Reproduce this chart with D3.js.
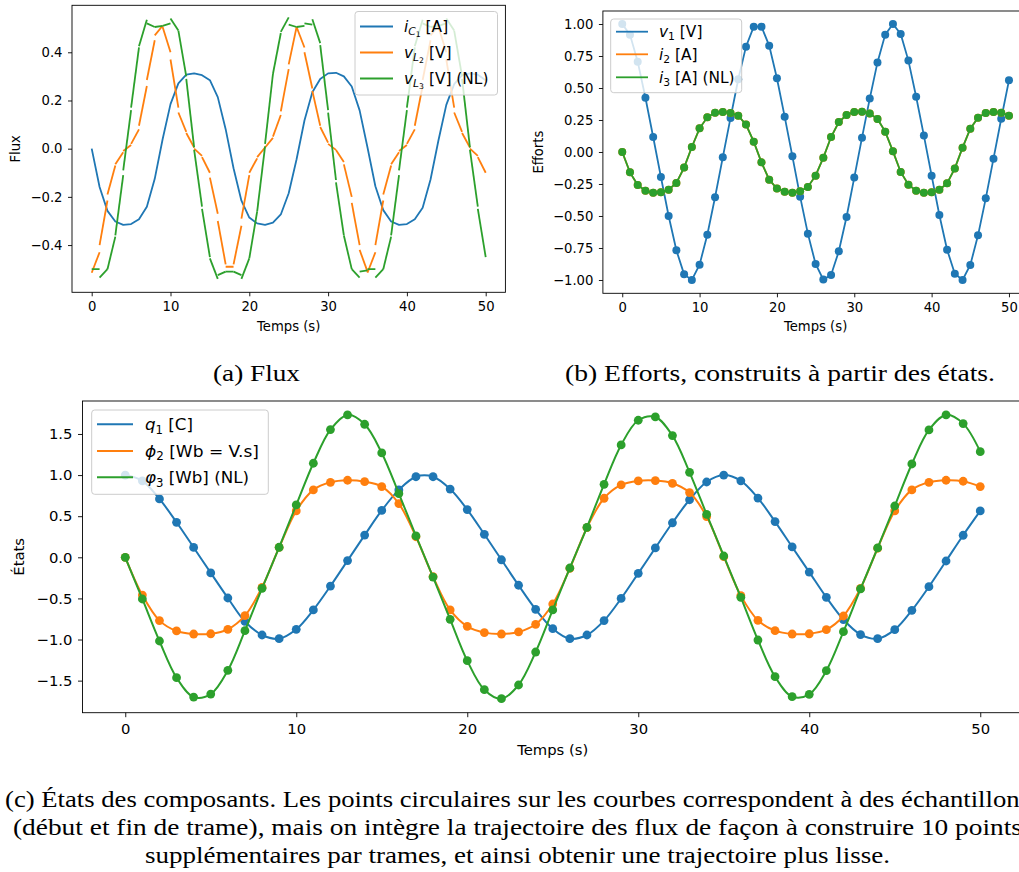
<!DOCTYPE html>
<html><head><meta charset="utf-8">
<script src="https://cdn.jsdelivr.net/npm/d3@7"></script>
<style>body{margin:0;background:#fff}svg{display:block}</style>
</head><body>
<svg id="fig" width="1019" height="872"></svg>
<script>
// ---------- DATA ----------
const temps = [0,1,2,3,4,5,6,7,8,9,10,11,12,13,14,15,16,17,18,19,20,21,22,23,24,25,26,27,28,29,30,31,32,33,34,35,36,37,38,39,40,41,42,43,44,45,46,47,48,49,50];

// (a) Flux
const iC1 = [0.0,-0.159,-0.258,-0.302,-0.316,-0.313,-0.293,-0.241,-0.125,0.039,0.185,0.271,0.307,0.3125,0.305,0.284,0.214,0.081,-0.081,-0.216,-0.286,-0.31,-0.316,-0.307,-0.273,-0.185,-0.044,0.117,0.234,0.289,0.3125,0.315,0.30,0.258,0.159,0.005,-0.156,-0.255,-0.302,-0.316,-0.313,-0.293,-0.245,-0.128,0.034,0.182,0.268,0.305,0.3125,0.307,0.284];
// v_L2 per frame (value at start of frame, value at end of frame)
const vL2Debut = [-0.515,-0.40,-0.19,-0.065,-0.01,0.02,0.095,0.285,0.47,0.505,0.37,0.15,0.065,0.0,-0.035,-0.12,-0.30,-0.49,-0.48,-0.29,-0.10,-0.035,0.005,0.05,0.155,0.35,0.505,0.40,0.24,0.09,0.02,-0.005,-0.065,-0.225,-0.42,-0.515,-0.40,-0.19,-0.065,-0.01,0.02,0.095,0.285,0.47,0.505,0.37,0.15,0.065,0.0,-0.035];
const vL2Fin   = [-0.43,-0.215,-0.07,-0.015,0.015,0.08,0.26,0.45,0.51,0.40,0.17,0.07,0.005,-0.03,-0.10,-0.27,-0.48,-0.49,-0.32,-0.11,-0.04,0.005,0.045,0.14,0.33,0.505,0.42,0.25,0.095,0.025,-0.005,-0.055,-0.20,-0.40,-0.51,-0.43,-0.215,-0.07,-0.015,0.015,0.08,0.26,0.45,0.51,0.40,0.17,0.07,0.005,-0.03,-0.10];
// v_L3 (NL) per frame
const vL3Debut = [-0.50,-0.535,-0.50,-0.36,-0.09,0.17,0.425,0.52,0.505,0.51,0.54,0.49,0.29,-0.005,-0.25,-0.455,-0.525,-0.51,-0.51,-0.54,-0.455,-0.26,0.02,0.31,0.485,0.515,0.505,0.52,0.537,0.43,0.15,-0.14,-0.36,-0.50,-0.51,-0.50,-0.535,-0.50,-0.36,-0.09,0.17,0.425,0.52,0.505,0.51,0.54,0.49,0.29,-0.005,-0.25];
const vL3Fin   = [-0.50,-0.50,-0.365,-0.11,0.16,0.42,0.535,0.505,0.51,0.52,0.49,0.30,0.005,-0.24,-0.45,-0.54,-0.51,-0.51,-0.525,-0.455,-0.26,0.01,0.31,0.48,0.545,0.505,0.51,0.515,0.438,0.16,-0.13,-0.36,-0.50,-0.535,-0.505,-0.50,-0.50,-0.365,-0.11,0.16,0.42,0.535,0.505,0.51,0.52,0.49,0.30,0.005,-0.24,-0.45];

// (b) Efforts
const v1 = [1.00,0.917,0.706,0.424,0.117,-0.195,-0.50,-0.768,-0.956,-1.0,-0.88,-0.646,-0.354,-0.042,0.266,0.568,0.823,0.979,0.979,0.831,0.576,0.276,-0.034,-0.349,-0.638,-0.875,-0.997,-0.961,-0.776,-0.508,-0.20,0.112,0.417,0.70,0.917,1.0,0.922,0.714,0.432,0.128,-0.185,-0.492,-0.763,-0.951,-1.0,-0.883,-0.651,-0.362,-0.052,0.26,0.56];
const i2 = [0.0,-0.159,-0.258,-0.302,-0.318,-0.315,-0.294,-0.242,-0.122,0.039,0.185,0.271,0.307,0.3125,0.305,0.284,0.214,0.081,-0.081,-0.216,-0.286,-0.31,-0.318,-0.307,-0.273,-0.185,-0.044,0.117,0.234,0.289,0.3125,0.315,0.30,0.258,0.159,0.005,-0.156,-0.255,-0.302,-0.318,-0.315,-0.294,-0.245,-0.128,0.034,0.182,0.268,0.305,0.3125,0.307,0.284];
const i3 = [0.0,-0.159,-0.258,-0.302,-0.318,-0.315,-0.294,-0.242,-0.122,0.039,0.185,0.271,0.307,0.3125,0.305,0.284,0.214,0.081,-0.081,-0.216,-0.286,-0.31,-0.318,-0.307,-0.273,-0.185,-0.044,0.117,0.234,0.289,0.3125,0.315,0.30,0.258,0.159,0.005,-0.156,-0.255,-0.302,-0.318,-0.315,-0.294,-0.245,-0.128,0.034,0.182,0.268,0.305,0.3125,0.307,0.284];

// (c) Etats
const q1 = [1.0,0.93,0.71,0.426,0.12,-0.19,-0.495,-0.78,-0.945,-0.99,-0.876,-0.64,-0.35,-0.04,0.27,0.57,0.82,0.98,0.98,0.83,0.58,0.28,-0.03,-0.34,-0.633,-0.868,-0.99,-0.945,-0.77,-0.5,-0.195,0.114,0.42,0.70,0.916,1.0,0.93,0.72,0.434,0.126,-0.18,-0.487,-0.758,-0.94,-0.99,-0.88,-0.645,-0.357,-0.045,0.268,0.564];
const phi2 = [0,-0.46,-0.77,-0.896,-0.933,-0.93,-0.876,-0.71,-0.365,0.12,0.564,0.82,0.912,0.937,0.92,0.86,0.653,0.25,-0.235,-0.64,-0.84,-0.916,-0.933,-0.908,-0.815,-0.568,-0.134,0.36,0.718,0.88,0.929,0.933,0.90,0.787,0.495,0.008,-0.466,-0.766,-0.892,-0.933,-0.93,-0.88,-0.714,-0.377,0.11,0.564,0.82,0.912,0.937,0.925,0.86];
const phi3 = [0,-0.507,-1.018,-1.464,-1.70,-1.663,-1.375,-0.892,-0.377,0.122,0.637,1.144,1.553,1.732,1.618,1.269,0.775,0.26,-0.24,-0.754,-1.257,-1.61,-1.72,-1.553,-1.152,-0.64,-0.13,0.365,0.888,1.367,1.667,1.707,1.48,1.034,0.523,0.016,-0.487,-1.006,-1.452,-1.695,-1.667,-1.379,-0.904,-0.385,0.114,0.624,1.135,1.549,1.732,1.626,1.285];

// ticks
const xTicks = [0,10,20,30,40,50];
const yTicksA = [-0.4,-0.2,0.0,0.2,0.4];
const yTicksB = [-1.0,-0.75,-0.5,-0.25,0.0,0.25,0.5,0.75,1.0];
const yTicksC = [-1.5,-1.0,-0.5,0.0,0.5,1.0,1.5];

const couleurs = ["#1f77b4","#ff7f0e","#2ca02c"];

// ---------- DRAW ----------
const svg = d3.select("#fig");
const FONT = "DejaVu Sans, sans-serif";

function panel(o){
  const g = svg.append("g");
  const x = d3.scaleLinear().domain(o.xd).range([o.x0,o.x1]);
  const y = d3.scaleLinear().domain(o.yd).range([o.y1,o.y0]);
  const id = "clip"+o.name;
  svg.append("clipPath").attr("id",id).append("rect")
     .attr("x",o.x0).attr("y",o.y0).attr("width",o.x1-o.x0).attr("height",o.y1-o.y0);
  const plot = g.append("g").attr("clip-path",`url(#${id})`);
  const ax = g.append("g").attr("transform",`translate(0,${o.y1})`)
    .call(d3.axisBottom(x).tickValues(xTicks).tickFormat(d3.format("d")).tickSize(o.tick).tickPadding(o.padX));
  const ay = g.append("g").attr("transform",`translate(${o.x0},0)`)
    .call(d3.axisLeft(y).tickValues(o.yt).tickFormat(o.fmt).tickSize(o.tick).tickPadding(o.padY));
  [ax,ay].forEach(a=>{
    a.select(".domain").remove();
    a.selectAll("line").attr("stroke","#000").attr("stroke-width",0.9);
    a.selectAll("text").attr("font-family",FONT).attr("font-size",o.fs).attr("fill","#000");
  });
  g.append("rect").attr("x",o.x0).attr("y",o.y0).attr("width",o.x1-o.x0).attr("height",o.y1-o.y0)
    .attr("fill","none").attr("stroke","#000").attr("stroke-width",0.9);
  g.append("text").attr("x",(o.x0+o.x1)/2).attr("y",o.xlabY).attr("text-anchor","middle")
    .attr("font-family",FONT).attr("font-size",o.fs).text("Temps (s)");
  g.append("text").attr("transform",`translate(${o.ylabX},${(o.y0+o.y1)/2}) rotate(-90)`)
    .attr("text-anchor","middle").attr("font-family",FONT).attr("font-size",o.fs).text(o.ylab);
  return {g,plot,x,y};
}

function mathText(sel, parts, fs){
  let cur = 0;
  parts.forEach(p=>{
    const lvl = p.l||0;
    const size = lvl===0?1:(lvl===1?0.7:0.5);
    const shift = lvl===0?0:(lvl===1?0.2*fs:0.33*fs);
    sel.append("tspan").attr("dy",shift-cur).attr("font-size",fs*size)
      .attr("font-style",p.it?"italic":"normal").text(p.s);
    cur = shift;
  });
}

function legend(g, o){
  g.append("rect").attr("x",o.bx0).attr("y",o.by0).attr("width",o.bx1-o.bx0).attr("height",o.by1-o.by0)
    .attr("rx",3).attr("fill","#fff").attr("fill-opacity",0.8).attr("stroke","#cccccc").attr("stroke-width",1);
  o.items.forEach((it,k)=>{
    const yy = o.rows[k];
    g.append("line").attr("x1",o.lx0).attr("x2",o.lx1).attr("y1",yy).attr("y2",yy)
      .attr("stroke",couleurs[k]).attr("stroke-width",o.lw);
    const t = g.append("text").attr("x",o.tx).attr("y",yy+o.fs*0.36).attr("font-family",FONT).attr("font-size",o.fs);
    if(o.lens && o.lens[k]) t.attr("textLength",o.lens[k]).attr("lengthAdjust","spacingAndGlyphs");
    mathText(t,it,o.fs);
  });
}

// Panel (a)
const A = panel({name:"a",x0:72,x1:505.4,y0:5.3,y1:292.3,xd:[-2.5,52.5],yd:[-0.596,0.595],yt:yTicksA,
  fmt:d3.format(".1f"),fs:13.2,tick:4,padX:5.5,padY:5.5,xlabY:330.8,ylabX:19.8,ylab:"Flux"});
const lineA = d3.line().x(d=>A.x(d[0])).y(d=>A.y(d[1]));
A.plot.append("path").attr("d",lineA(temps.map((t,k)=>[t,iC1[k]])))
  .attr("fill","none").attr("stroke",couleurs[0]).attr("stroke-width",1.8).attr("stroke-linejoin","round");
function frames(deb,fin,col){
  const segs = deb.map((d,k)=>[[temps[k],d],[temps[k+1],fin[k]]]);
  A.plot.append("g").selectAll("path").data(segs).join("path")
    .attr("d",lineA).attr("fill","none").attr("stroke",col).attr("stroke-width",1.8).attr("stroke-linecap","butt");
}
frames(vL2Debut,vL2Fin,couleurs[1]);
frames(vL3Debut,vL3Fin,couleurs[2]);
legend(A.g,{bx0:355,bx1:497.5,by0:11.5,by1:95,lx0:360,lx1:393,tx:404,rows:[26.5,52.5,78.5],fs:15.4,lw:1.8,
  items:[
    [{s:"i",it:1},{s:"C",it:1,l:1},{s:"1",l:2},{s:" [A]"}],
    [{s:"v",it:1},{s:"L",it:1,l:1},{s:"2",l:2},{s:" [V]"}],
    [{s:"v",it:1},{s:"L",it:1,l:1},{s:"3",l:2},{s:" [V] (NL)"}]
  ]});

// Panel (b)
const B = panel({name:"b",x0:602.9,x1:1028.3,y0:11,y1:293.3,xd:[-2.5,52.5],yd:[-1.104,1.1016],yt:yTicksB,
  fmt:d3.format(".2f"),fs:13.2,tick:4,padX:5.5,padY:5.5,xlabY:330.8,ylabX:543,ylab:"Efforts"});
function serie(P,vals,col,lw,r,curve){
  const ln = d3.line().x((d,k)=>P.x(temps[k])).y(d=>P.y(d));
  if(curve) ln.curve(curve);
  P.plot.append("path").attr("d",ln(vals)).attr("fill","none").attr("stroke",col).attr("stroke-width",lw);
  P.plot.append("g").selectAll("circle").data(vals).join("circle")
    .attr("cx",(d,k)=>P.x(temps[k])).attr("cy",d=>P.y(d)).attr("r",r).attr("fill",col);
}
serie(B,v1,couleurs[0],1.8,4);
serie(B,i2,couleurs[1],1.8,4);
serie(B,i3,couleurs[2],1.8,4);
legend(B.g,{bx0:610.7,bx1:741.7,by0:19,by1:92.7,lx0:616,lx1:648,tx:659,rows:[31.7,54.3,77.3],fs:15.4,lw:1.8,
  items:[
    [{s:"v",it:1},{s:"1",l:1},{s:" [V]"}],
    [{s:"i",it:1},{s:"2",l:1},{s:" [A]"}],
    [{s:"i",it:1},{s:"3",l:1},{s:" [A] (NL)"}]
  ]});

// Panel (c)
const C = panel({name:"c",x0:82.5,x1:1023,y0:401,y1:712.7,xd:[-2.5,52.5],yd:[-1.89,1.901],yt:yTicksC,
  fmt:d3.format(".1f"),fs:14.8,tick:4.5,padX:6.5,padY:5.5,xlabY:755.3,ylabX:23.5,ylab:"États"});
serie(C,q1,couleurs[0],2,4.4,d3.curveCatmullRom);
serie(C,phi2,couleurs[1],2,4.4,d3.curveCatmullRom);
serie(C,phi3,couleurs[2],2,4.4,d3.curveCatmullRom);
legend(C.g,{bx0:91.7,bx1:268.3,by0:410,by1:494.3,lx0:97,lx1:133,tx:145,rows:[424.3,451,477.3],fs:16.6,lw:2,
  lens:[48,114,104],
  items:[
    [{s:"q",it:1},{s:"1",l:1},{s:" [C]"}],
    [{s:"\u03D5",it:1},{s:"2",l:1},{s:" [Wb = V.s]"}],
    [{s:"\u03C6",it:1},{s:"3",l:1},{s:" [Wb] (NL)"}]
  ]});

// ---------- CAPTIONS ----------
const SERIF = "Liberation Serif, Times New Roman, serif";
function caption(txt,cx,y,w){
  svg.append("text").attr("x",cx).attr("y",y).attr("text-anchor","middle")
    .attr("font-family",SERIF).attr("font-size",23).attr("fill","#000")
    .attr("textLength",w).attr("lengthAdjust","spacingAndGlyphs").text(txt);
}
caption("(a) Flux",256.5,381,87);
caption("(b) Efforts, construits à partir des états.",780,381,430);
caption("(c) États des composants. Les points circulaires sur les courbes correspondent à des échantillons",517.5,807,1025);
caption("(début et fin de trame), mais on intègre la trajectoire des flux de façon à construire 10 points",517.5,835,1009);
caption("supplémentaires par trames, et ainsi obtenir une trajectoire plus lisse.",517.5,863,745);
</script>
</body></html>
